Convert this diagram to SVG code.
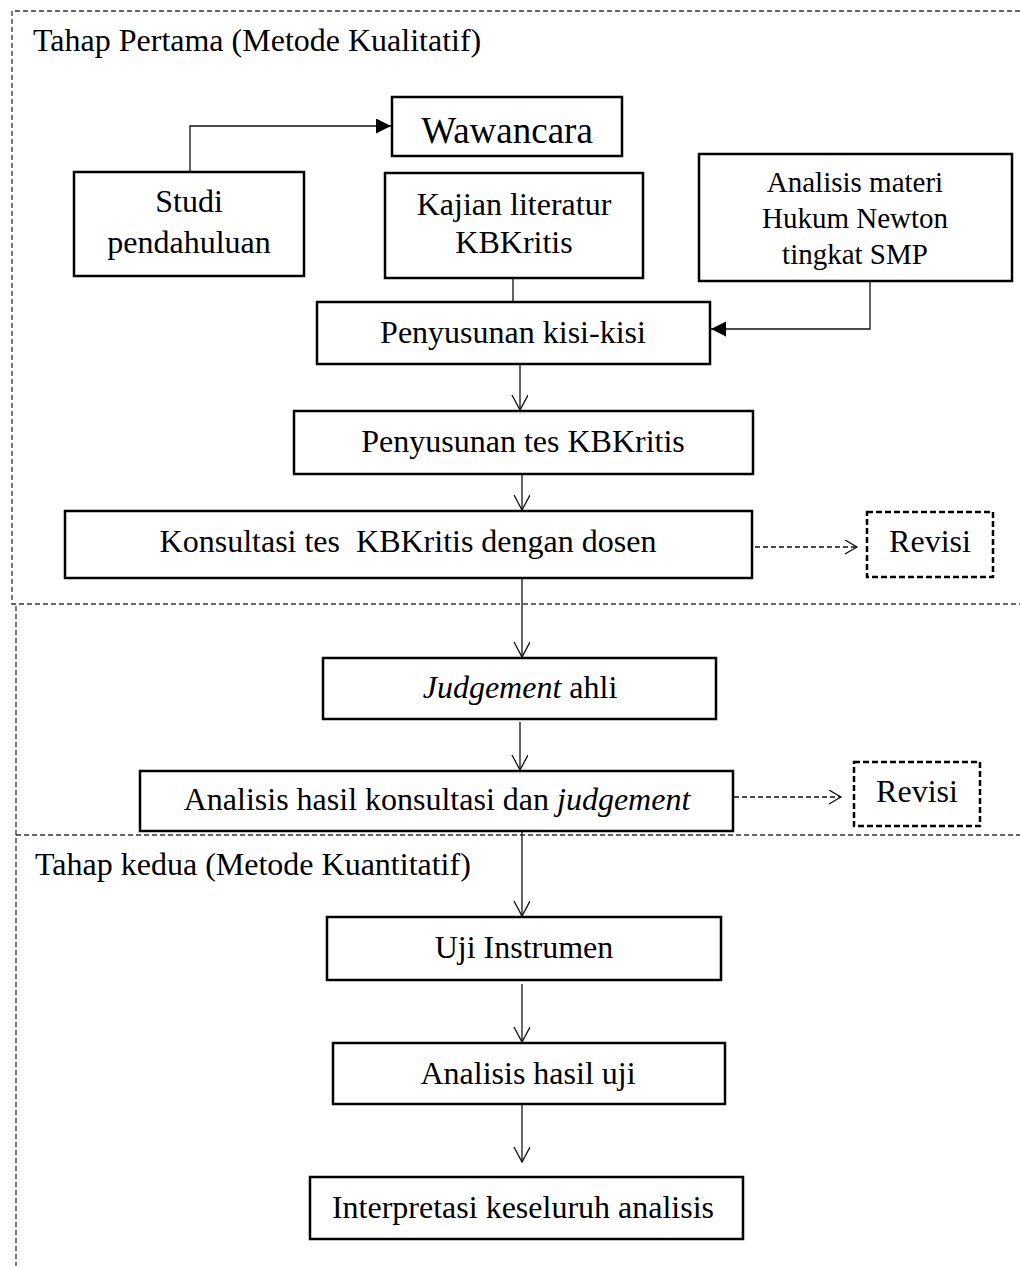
<svg xmlns="http://www.w3.org/2000/svg" width="1020" height="1266" viewBox="0 0 1020 1266">
<style>
  text { font-family: "Liberation Serif", "Times New Roman", serif; font-size: 32px; fill: #000; }
  .c { text-anchor: middle; }
  .box { fill: #fff; stroke: #000; stroke-width: 2.5; }
  .rev { fill: #fff; stroke: #000; stroke-width: 2.5; stroke-dasharray: 6 3; }
  .frame { fill: none; stroke: #333; stroke-width: 1.3; stroke-dasharray: 5 3; }
  .ln { fill: none; stroke: #111; stroke-width: 1.3; }
  .dl { fill: none; stroke: #111; stroke-width: 1.3; stroke-dasharray: 5 3; }
</style>
<defs>
  <marker id="open" markerWidth="20" markerHeight="20" refX="15" refY="8" orient="auto" markerUnits="userSpaceOnUse">
    <path d="M0,0 L15,8 L0,16" fill="none" stroke="#111" stroke-width="1.3"/>
  </marker>
  <marker id="openS" markerWidth="20" markerHeight="20" refX="12" refY="7" orient="auto" markerUnits="userSpaceOnUse">
    <path d="M0,0 L12,7 L0,14" fill="none" stroke="#111" stroke-width="1.3"/>
  </marker>
  <marker id="solid" markerWidth="20" markerHeight="20" refX="15" refY="7.5" orient="auto" markerUnits="userSpaceOnUse">
    <path d="M0,0 L15,7.5 L0,15 Z" fill="#000"/>
  </marker>
</defs>
<rect width="1020" height="1266" fill="#fff"/>

<g id="frames">
  <path class="frame" d="M1020,11 H12 V604 H1020"/>
  <path class="frame" d="M16,606 V1266"/>
  <path class="frame" d="M16,835 H1020"/>
  <text x="33" y="51">Tahap Pertama (Metode Kualitatif)</text>
  <text x="35" y="875">Tahap kedua (Metode Kuantitatif)</text>
</g>

<g id="connectors">
  <path class="ln" d="M190,172 V126 H391" marker-end="url(#solid)"/>
  <path class="ln" d="M513,278 V302"/>
  <path class="ln" d="M870,281 V329 H711" marker-end="url(#solid)"/>
  <path class="ln" d="M520,362 V410" marker-end="url(#open)"/>
  <path class="ln" d="M522,474 V510" marker-end="url(#open)"/>
  <path class="dl" d="M755,547 H857" marker-end="url(#openS)"/>
  <path class="ln" d="M522,578 V657" marker-end="url(#open)"/>
  <path class="ln" d="M520,722 V770" marker-end="url(#open)"/>
  <path class="dl" d="M734,797 H841" marker-end="url(#openS)"/>
  <path class="ln" d="M522,831 V916" marker-end="url(#open)"/>
  <path class="ln" d="M522,984 V1042" marker-end="url(#open)"/>
  <path class="ln" d="M522,1104 V1162" marker-end="url(#open)"/>
</g>

<g id="studi">
  <rect class="box" x="74" y="172" width="230" height="104"/>
  <text class="c" x="189" y="212">Studi</text>
  <text class="c" x="189" y="253">pendahuluan</text>
</g>
<g id="wawancara">
  <rect class="box" x="392" y="97" width="230" height="59"/>
  <text class="c" x="507" y="143" style="font-size:37px">Wawancara</text>
</g>
<g id="kajian">
  <rect class="box" x="385" y="173" width="258" height="105"/>
  <text class="c" x="514" y="215">Kajian literatur</text>
  <text class="c" x="514" y="253">KBKritis</text>
</g>
<g id="analisis-materi">
  <rect class="box" x="699" y="154" width="313" height="127"/>
  <text class="c" x="855" y="192" style="font-size:29px">Analisis materi</text>
  <text class="c" x="855" y="228" style="font-size:29px">Hukum Newton</text>
  <text class="c" x="855" y="264" style="font-size:29px">tingkat SMP</text>
</g>
<g id="kisi-kisi">
  <rect class="box" x="317" y="302" width="393" height="62"/>
  <text class="c" x="513" y="343">Penyusunan kisi-kisi</text>
</g>
<g id="penyusunan-tes">
  <rect class="box" x="294" y="411" width="459" height="63"/>
  <text class="c" x="523" y="452">Penyusunan tes KBKritis</text>
</g>
<g id="konsultasi">
  <rect class="box" x="65" y="511" width="687" height="67"/>
  <text class="c" x="408" y="552" xml:space="preserve">Konsultasi tes  KBKritis dengan dosen</text>
</g>
<g id="revisi-1">
  <rect class="rev" x="867" y="512" width="126" height="65"/>
  <text class="c" x="930" y="552">Revisi</text>
</g>
<g id="judgement">
  <rect class="box" x="323" y="658" width="393" height="61"/>
  <text class="c" x="520" y="698"><tspan font-style="italic">Judgement</tspan> ahli</text>
</g>
<g id="analisis-hasil-konsultasi">
  <rect class="box" x="140" y="771" width="593" height="60"/>
  <text class="c" x="437" y="810">Analisis hasil konsultasi dan <tspan font-style="italic">judgement</tspan></text>
</g>
<g id="revisi-2">
  <rect class="rev" x="854" y="762" width="126" height="64"/>
  <text class="c" x="917" y="802">Revisi</text>
</g>
<g id="uji-instrumen">
  <rect class="box" x="327" y="917" width="394" height="63"/>
  <text class="c" x="524" y="958">Uji Instrumen</text>
</g>
<g id="analisis-hasil-uji">
  <rect class="box" x="333" y="1043" width="392" height="61"/>
  <text class="c" x="528" y="1084">Analisis hasil uji</text>
</g>
<g id="interpretasi">
  <rect class="box" x="310" y="1177" width="433" height="62"/>
  <text class="c" x="523" y="1218">Interpretasi keseluruh analisis</text>
</g>
</svg>
